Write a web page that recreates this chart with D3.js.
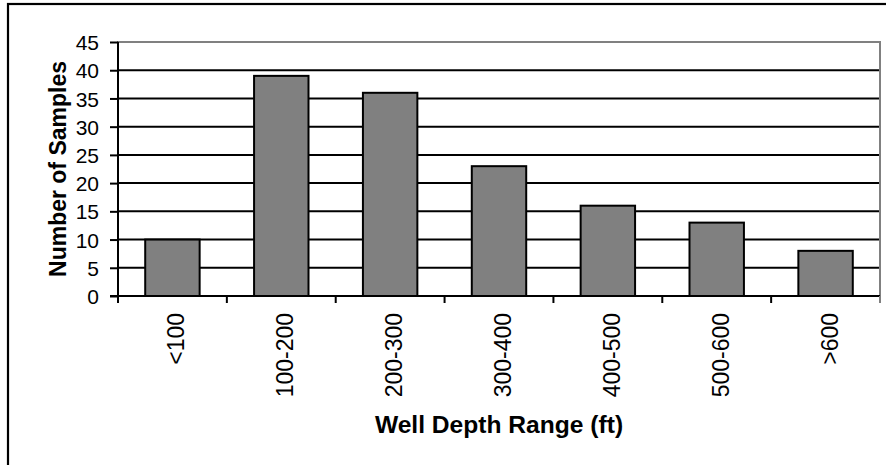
<!DOCTYPE html>
<html lang="en">
<head>
<meta charset="utf-8">
<script src="https://d3js.org/d3.v7.min.js"></script>
<style>
body { margin: 0; background: #fff; }
text { font-family: Arial, "Liberation Sans", sans-serif; }
</style>
</head>
<body>
<div id="canvas"></div>
<script>
var categories = ["<100", "100-200", "200-300", "300-400", "400-500", "500-600", ">600"];
var samples = [10, 39, 36, 23, 16, 13, 8];
var yTicks = [0, 5, 10, 15, 20, 25, 30, 35, 40, 45];

var width = 886, height = 465;
var plot = {left: 118, top: 42, right: 880, bottom: 296};

var svg = d3.select("#canvas").append("svg")
	.attr("width", width)
	.attr("height", height);

// outer frame (runs off the right and bottom edge)
svg.append("rect")
	.attr("x", 8).attr("y", 4)
	.attr("width", 900).attr("height", 500)
	.attr("fill", "none")
	.attr("stroke", "#000")
	.attr("stroke-width", 2.2);

var x = d3.scaleBand()
	.domain(categories)
	.range([plot.left, plot.right])
	.paddingInner(0.5)
	.paddingOuter(0.25);

var xEdge = d3.scaleLinear()
	.domain([0, categories.length])
	.range([plot.left, plot.right]);

var y = d3.scaleLinear()
	.domain([0, 45])
	.range([plot.bottom, plot.top]);

// plot border, grey on top and right
svg.append("rect")
	.attr("x", plot.left).attr("y", plot.top)
	.attr("width", plot.right - plot.left)
	.attr("height", plot.bottom - plot.top)
	.attr("fill", "none")
	.attr("stroke", "#808080")
	.attr("stroke-width", 2);

// gridlines
svg.selectAll("line.grid")
	.data(yTicks.filter(function(d) { return d > 0 && d < 45; }))
	.enter().append("line")
	.attr("class", "grid")
	.attr("x1", plot.left).attr("x2", plot.right - 1)
	.attr("y1", function(d) { return y(d); })
	.attr("y2", function(d) { return y(d); })
	.attr("stroke", "#000")
	.attr("stroke-width", 2);

// bars
svg.selectAll("rect.bar")
	.data(samples)
	.enter().append("rect")
	.attr("class", "bar")
	.attr("x", function(d, i) { return x(categories[i]); })
	.attr("y", function(d) { return y(d); })
	.attr("width", x.bandwidth())
	.attr("height", function(d) { return y(0) - y(d); })
	.attr("fill", "#808080")
	.attr("stroke", "#000")
	.attr("stroke-width", 2);

// y axis
var yAxis = svg.append("g")
	.attr("transform", "translate(" + plot.left + ",0)")
	.call(d3.axisLeft(y).tickValues(yTicks).tickSize(8).tickPadding(11));
yAxis.select(".domain").attr("d", "M0," + plot.top + "V" + (plot.bottom + 7));
yAxis.selectAll("line, path").attr("stroke", "#000").attr("stroke-width", 2);
yAxis.selectAll("text")
	.attr("fill", "#000")
	.style("font-size", "21px")
	.attr("dy", "0.36em");

// x axis: ticks on the category edges
var xAxis = svg.append("g")
	.attr("transform", "translate(0," + plot.bottom + ")");
xAxis.append("line")
	.attr("x1", plot.left - 8).attr("x2", plot.right)
	.attr("stroke", "#000").attr("stroke-width", 2);
xAxis.selectAll("line.tick")
	.data(d3.range(1, categories.length + 1))
	.enter().append("line")
	.attr("class", "tick")
	.attr("x1", function(d) { return xEdge(d); })
	.attr("x2", function(d) { return xEdge(d); })
	.attr("y1", 0).attr("y2", 7)
	.attr("stroke", function(d) { return d === categories.length ? "#808080" : "#000"; })
	.attr("stroke-width", 2);
// the original glyphs are a bit wider than tall, so stretch across
xAxis.selectAll("text")
	.data(categories)
	.enter().append("text")
	.attr("transform", function(d) {
		return "translate(" + (x(d) + x.bandwidth() / 2 + 3) + ",17) rotate(-90) scale(1,1.08)";
	})
	.attr("text-anchor", "end")
	.attr("dy", "0.36em")
	.style("font-size", "23px")
	.text(function(d) { return d; });

// axis titles
svg.append("text")
	.attr("transform", "translate(" + (plot.left + plot.right) / 2 + ",433) scale(1.07,1)")
	.attr("text-anchor", "middle")
	.style("font-size", "23px")
	.style("font-weight", "bold")
	.text("Well Depth Range (ft)");

svg.append("text")
	.attr("transform", "translate(66," + (plot.top + plot.bottom) / 2 + ") rotate(-90) scale(1,1.06)")
	.attr("text-anchor", "middle")
	.style("font-size", "23px")
	.style("font-weight", "bold")
	.text("Number of Samples");
</script>
</body>
</html>
